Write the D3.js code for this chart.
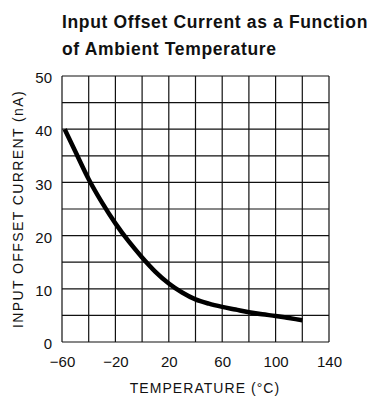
<!DOCTYPE html>
<html>
<head>
<meta charset="utf-8">
<script src="https://cdn.jsdelivr.net/npm/d3@7"></script>
<style>
  html, body { margin: 0; padding: 0; background: #fff; }
  svg { display: block; }
  text { font-family: "Liberation Sans", Arial, Helvetica, sans-serif; fill: #111; }
</style>
</head>
<body>
<svg id="chart" width="370" height="399"></svg>
<script>
// Data
const temperature = [-58, -50, -40, -30, -20, -10, 0, 10, 20, 30, 40, 50, 60, 70, 80, 90, 100, 110, 120];
const offsetCurrent = [40, 35.8, 30.6, 26.2, 22.3, 18.9, 15.9, 13.2, 11.0, 9.3, 8.0, 7.2, 6.6, 6.1, 5.6, 5.2, 4.9, 4.5, 4.1];
const xTickLabels = [-60, -20, 20, 60, 100, 140];
const yTickLabels = [0, 10, 20, 30, 40, 50];
const xGrid = [-60, -40, -20, 0, 20, 40, 60, 80, 100, 120, 140];
const yGrid = [0, 5, 10, 15, 20, 25, 30, 35, 40, 45, 50];
const titleLines = ["Input Offset Current as a Function", "of Ambient Temperature"];
const xTitle = "TEMPERATURE (°C)";
const yTitle = "INPUT OFFSET CURRENT (nA)";

const svg = d3.select("#chart");
const plot = { left: 62, right: 329, top: 76, bottom: 342 };

const x = d3.scaleLinear().domain([-60, 140]).range([plot.left, plot.right]);
const y = d3.scaleLinear().domain([0, 50]).range([plot.bottom, plot.top]);

// Title
svg.append("g").selectAll("text").data(titleLines).join("text")
  .attr("x", 62)
  .attr("y", (d, i) => 28 + i * 27)
  .attr("font-size", 17.5)
  .attr("font-weight", "bold")
  .attr("letter-spacing", 0.65)
  .text(d => d);

// Grid
const grid = svg.append("g").attr("stroke", "#111").attr("stroke-width", 1.2);
grid.selectAll("line.v").data(xGrid).join("line").attr("class", "v")
  .attr("x1", d => x(d)).attr("x2", d => x(d))
  .attr("y1", plot.top).attr("y2", plot.bottom);
grid.selectAll("line.h").data(yGrid).join("line").attr("class", "h")
  .attr("y1", d => y(d)).attr("y2", d => y(d))
  .attr("x1", plot.left).attr("x2", plot.right);

// Axes (labels only)
const xAxis = d3.axisBottom(x).tickValues(xTickLabels).tickSize(0).tickPadding(14)
  .tickFormat(d => d < 0 ? "\u2212" + Math.abs(d) : String(d));
svg.append("g").attr("transform", `translate(0,${plot.bottom})`).call(xAxis)
  .call(g => g.select(".domain").remove())
  .call(g => g.selectAll("text").attr("font-size", 15).attr("font-family", "Liberation Sans, Arial, sans-serif").attr("fill", "#111"));

const yAxis = d3.axisLeft(y).tickValues(yTickLabels).tickSize(0).tickPadding(10);
svg.append("g").attr("transform", `translate(${plot.left},0)`).call(yAxis)
  .call(g => g.select(".domain").remove())
  .call(g => g.selectAll("text").attr("font-size", 15).attr("dy", "0.45em").attr("font-family", "Liberation Sans, Arial, sans-serif").attr("fill", "#111"));

// Axis titles
svg.append("text")
  .attr("x", 205).attr("y", 393)
  .attr("text-anchor", "middle")
  .attr("font-size", 14)
  .attr("letter-spacing", 1.05)
  .text(xTitle);

svg.append("text")
  .attr("transform", `translate(23,${(plot.top + plot.bottom) / 2}) rotate(-90)`)
  .attr("text-anchor", "middle")
  .attr("font-size", 14)
  .attr("letter-spacing", 1.4)
  .text(yTitle);

// Curve
const line = d3.line()
  .x((d, i) => x(temperature[i]))
  .y(d => y(d))
  .curve(d3.curveMonotoneX);
svg.append("path")
  .datum(offsetCurrent)
  .attr("fill", "none")
  .attr("stroke", "#000")
  .attr("stroke-width", 4.5)
  .attr("d", line);
</script>
</body>
</html>
